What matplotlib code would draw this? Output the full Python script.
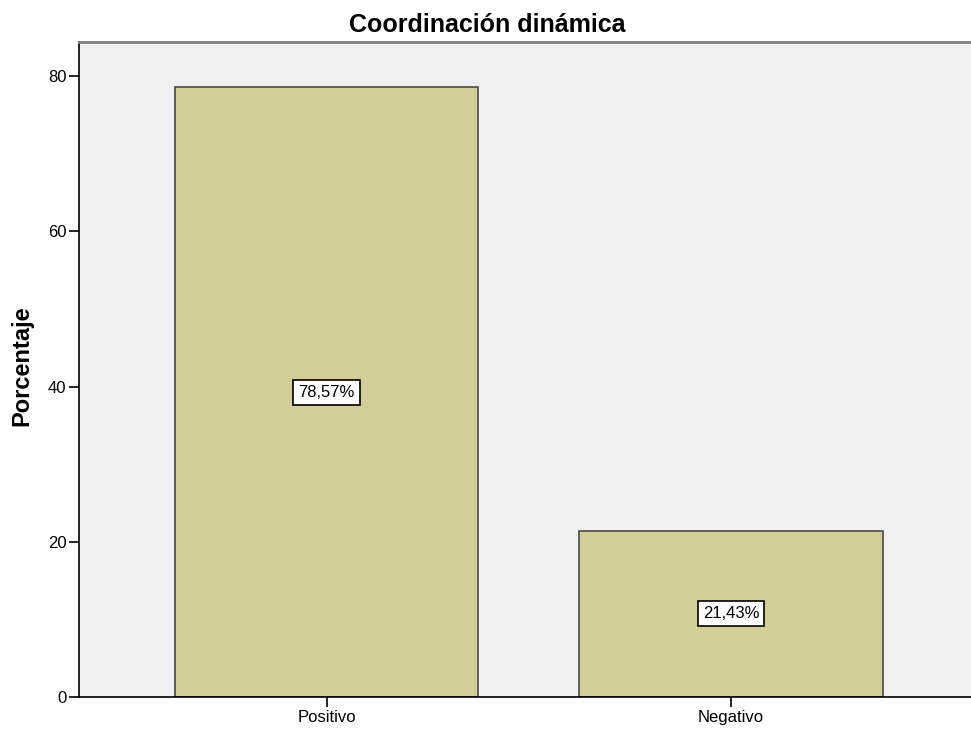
import matplotlib.pyplot as plt

# --- Data ---
categories = ["Positivo", "Negativo"]
percentages = [78.57, 21.43]
value_labels = ["78,57%", "21,43%"]

plt.rcParams['font.family'] = ['Liberation Sans', 'DejaVu Sans']

fig = plt.figure(figsize=(9.71, 7.31), dpi=100)
ax = fig.add_axes([0.0814, 0.0465, 0.9186, 0.896])
ax.set_facecolor('#F0F0F0')

x = list(range(len(categories)))
ax.bar(x, percentages, width=0.75, color='#D3CE98', edgecolor='#4A4A4A', linewidth=1.2)

# value labels in white boxes at bar centre
for xi, val, lab in zip(x, percentages, value_labels):
    ax.text(xi, val / 2, lab, ha='center', va='center', fontsize=12,
            bbox=dict(boxstyle='square,pad=0.3', facecolor='white', edgecolor='black', linewidth=1.2))

ax.set_xlim(-0.612, 1.593)
ax.set_ylim(0, 84.4)
ax.set_yticks([0, 20, 40, 60, 80])
ax.set_xticks(x)
ax.set_xticklabels(categories)
ax.tick_params(axis='both', direction='out', length=7, width=1.2, pad=2,
               labelsize=12, colors='black')

ax.spines['right'].set_visible(False)
ax.spines['top'].set_color('#808080')
ax.spines['top'].set_linewidth(2)
ax.spines['left'].set_linewidth(1.2)
ax.spines['bottom'].set_linewidth(1.2)

fig.text(0.0227, 0.5, "Porcentaje", rotation=90, ha='center', va='center',
         fontsize=17, fontweight='bold')
fig.text(0.502, 0.966, "Coordinación dinámica", ha='center', va='center',
         fontsize=18, fontweight='bold')

fig.savefig("out.png", dpi=100)
